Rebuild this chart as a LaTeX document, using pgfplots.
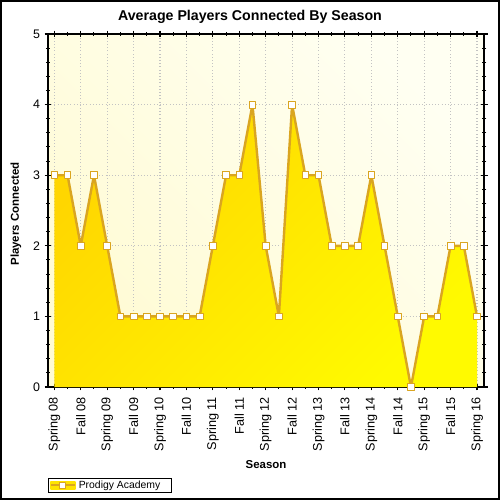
\documentclass[border=0pt]{standalone}
\usepackage{pgfplots}
\pgfplotsset{compat=1.18}
\usepackage{pgfplotstable}
\usepackage{fontspec}
\setmainfont{Liberation Sans}
\definecolor{gline}{RGB}{218,165,32}
\definecolor{fillA}{RGB}{255,214,0}
\definecolor{fillB}{RGB}{255,250,0}
\definecolor{bgA}{RGB}{255,251,212}
\definecolor{bgB}{RGB}{255,255,242}
\definecolor{gridc}{RGB}{195,195,195}
\pgfplotstableread{
x y
0 3
1 3
2 2
3 3
4 2
5 1
6 1
7 1
8 1
9 1
10 1
11 1
12 2
13 3
14 3
15 4
16 2
17 1
18 4
19 3
20 3
21 2
22 2
23 2
24 3
25 2
26 1
27 0
28 1
29 1
30 2
31 2
32 1
}\datatable
\begin{document}
\begin{tikzpicture}
\begin{axis}[
  scale only axis, width=327.2pt, height=264.75pt,
  xmin=-0.48, xmax=32.55, ymin=0, ymax=5,
  clip=false,
  axis background/.style={shade, top color=bgB, bottom color=bgA, shading angle=-45},
  axis line style={line width=1.2pt, black},
  xtick={0,2,...,32},
  xticklabels={Spring 08,Fall 08,Spring 09,Fall 09,Spring 10,Fall 10,Spring 11,Fall 11,Spring 12,Fall 12,Spring 13,Fall 13,Spring 14,Fall 14,Spring 15,Fall 15,Spring 16},
  minor x tick num=1,
  ytick={0,1,2,3,4,5},
  minor y tick num=4,
  tick align=center,
  major tick length=5pt, minor tick length=3pt,
  tick style={black, line width=0.8pt},
  xmajorgrids, ymajorgrids,
  grid style={gridc, dotted, line width=0.8pt},
  xticklabel style={rotate=90, anchor=east, font=\fontsize{9.5}{10}\selectfont, xshift=-1.5pt},
  yticklabel style={font=\fontsize{9.3}{10}\selectfont},
  /pgf/number format/assume math mode=true,
  xtick pos=both, ytick pos=both,
  legend style={at={(0,-0.258)}, anchor=north west, draw=black, line width=0.6pt,
     font=\fontsize{7.8}{9}\selectfont, inner xsep=1pt, inner ysep=0pt, row sep=0pt,
     nodes={inner ysep=1.5pt},
     legend cell align=left},
  legend image code/.code={
     \fill[fillA!60!fillB] (0pt,-2.6pt) rectangle (18pt,2.6pt);
     \draw[gline, line width=1.8pt] (0pt,0pt) -- (18pt,0pt);
     \draw[gline, fill=white, line width=0.6pt] (6.4pt,-2.4pt) rectangle (11.2pt,2.4pt);
  },
]
\addplot[draw=none, shade, top color=fillA, bottom color=fillB, shading angle=45, forget plot] table[x=x,y=y] {\datatable} \closedcycle;
\addplot[gline, line width=1.8pt, line join=round, mark=square*, mark size=2.5pt,
   mark options={fill=white, draw=gline, line width=0.6pt, solid}] table[x=x,y=y] {\datatable};
\addlegendentry{Prodigy Academy\hspace*{5.5pt}\mbox{}}
\coordinate (O) at (rel axis cs:0,0);
\end{axis}
\begin{scope}[shift={(O)}, x=0.75pt, y=0.75pt]
\useasboundingbox (-48,-113) rectangle (452,387);
\node[font=\bfseries\fontsize{10.65}{12}\selectfont] at (202,370) {Average Players Connected By Season};
\node[font=\bfseries\fontsize{8.6}{10}\selectfont, rotate=90] at (-32,173) {Players Connected};
\node[font=\bfseries\fontsize{8.6}{10}\selectfont] at (218,-78) {Season};
\draw[black, line width=1.2pt] (-47.2,-112.2) rectangle (451.2,386.2);
\end{scope}
\end{tikzpicture}
\end{document}
